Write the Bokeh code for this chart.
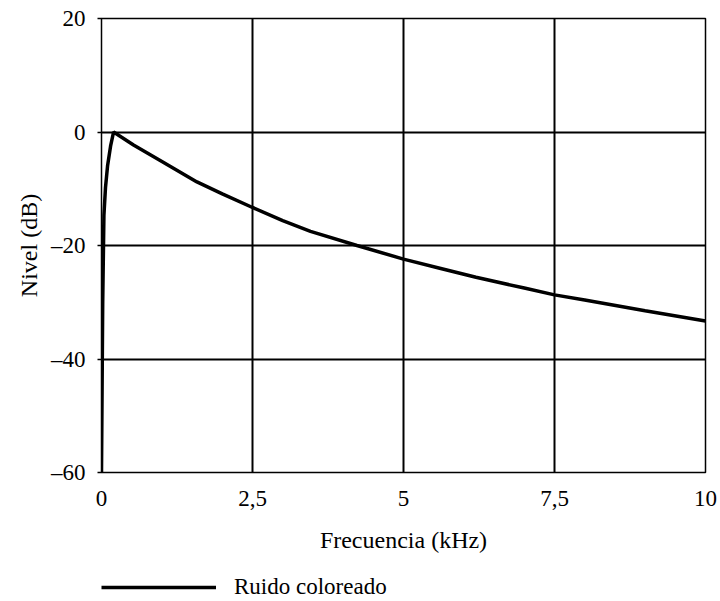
from bokeh.plotting import figure
from bokeh.layouts import column
from bokeh.models import (Range1d, FixedTicker, CustomJSTickFormatter, Legend, LegendItem)
from bokeh.embed import file_html
from bokeh.resources import INLINE

# Data
freq_khz = [0, 0.01, 0.02, 0.04, 0.066, 0.1, 0.15, 0.2, 0.53, 1.0, 1.58, 2.0, 2.5,
            3.0, 3.46, 4.23, 5.0, 5.6, 6.2, 7.0, 7.5, 8.0, 9.0, 10.0]
level_db = [-60, -45, -30, -14.7, -9.8, -6, -2.5, 0, -2.3, -5.2, -8.8, -10.9, -13.3,
            -15.6, -17.5, -20, -22.4, -24.0, -25.6, -27.5, -28.7, -29.6, -31.5, -33.3]
x_ticks = [0, 2.5, 5, 7.5, 10]
y_ticks = [-60, -40, -20, 0, 20]
series_label = "Ruido coloreado"
x_label = "Frecuencia (kHz)"
y_label = "Nivel (dB)"

FONT = "Liberation Serif"
FS_TICK = "23px"
FS_LABEL = "24px"
LINE_W = 3.5

p = figure(frame_width=604, frame_height=454, output_backend="svg", toolbar_location=None,
           x_range=Range1d(0, 10), y_range=Range1d(-60, 20),
           min_border_left=101, min_border_right=15, min_border_top=18,
           min_border_bottom=88)

r = p.line(freq_khz, level_db, line_color="black", line_width=LINE_W)

p.outline_line_color = "black"
p.outline_line_width = 1.5
p.background_fill_color = "white"
p.border_fill_color = "white"

p.xaxis.ticker = FixedTicker(ticks=x_ticks)
p.yaxis.ticker = FixedTicker(ticks=y_ticks)
p.xaxis.formatter = CustomJSTickFormatter(code="return String(tick).replace('.', ',');")
p.yaxis.formatter = CustomJSTickFormatter(code="return tick < 0 ? '\u2013' + Math.abs(tick) : String(tick);")

for ax in (p.xaxis, p.yaxis):
    ax.axis_line_color = None
    ax.minor_tick_line_color = None
    ax.major_label_text_font = FONT
    ax.major_label_text_font_size = FS_TICK
    ax.major_label_text_color = "black"
    ax.axis_label_text_font = FONT
    ax.axis_label_text_font_size = FS_LABEL
    ax.axis_label_text_font_style = "normal"
    ax.axis_label_text_color = "black"

p.xaxis.major_tick_line_color = None
p.xaxis.major_label_standoff = 12
p.xaxis.axis_label = x_label
p.xaxis.axis_label_standoff = 18

p.yaxis.major_tick_in = 0
p.yaxis.major_tick_out = 4
p.yaxis.major_tick_line_color = "black"
p.yaxis.major_tick_line_width = 1.5
p.yaxis.major_label_standoff = 12
p.yaxis.axis_label = y_label
p.yaxis.axis_label_standoff = 6

p.xgrid.grid_line_color = "black"
p.ygrid.grid_line_color = "black"
p.xgrid.grid_line_width = 2
p.ygrid.grid_line_width = 2
p.xgrid.grid_line_alpha = 1
p.ygrid.grid_line_alpha = 1

# Legend strip below the chart (its line lies outside the strip's view range,
# only the legend swatch is visible)
leg = figure(width=720, height=41, output_backend="svg", toolbar_location=None,
             x_axis_type=None, y_axis_type=None,
             x_range=Range1d(0, 10), y_range=Range1d(1000, 1001),
             min_border_left=0, min_border_right=0, min_border_top=0, min_border_bottom=0)
leg.outline_line_color = None
leg.xgrid.visible = False
leg.ygrid.visible = False
leg.background_fill_color = "white"
leg.border_fill_color = "white"
r_leg = leg.line(freq_khz, level_db, line_color="black", line_width=LINE_W)

legend = Legend(items=[LegendItem(label=series_label, renderers=[r_leg])],
                location=(0, 0), orientation="horizontal",
                glyph_width=115, glyph_height=28, label_standoff=18,
                label_text_font=FONT, label_text_font_size=FS_TICK,
                label_text_color="black",
                border_line_color=None, background_fill_alpha=0,
                padding=0, margin=0)
leg.add_layout(legend, "center")

layout = column(p, leg, spacing=0)
open("out.html", "w").write(file_html(layout, INLINE))
